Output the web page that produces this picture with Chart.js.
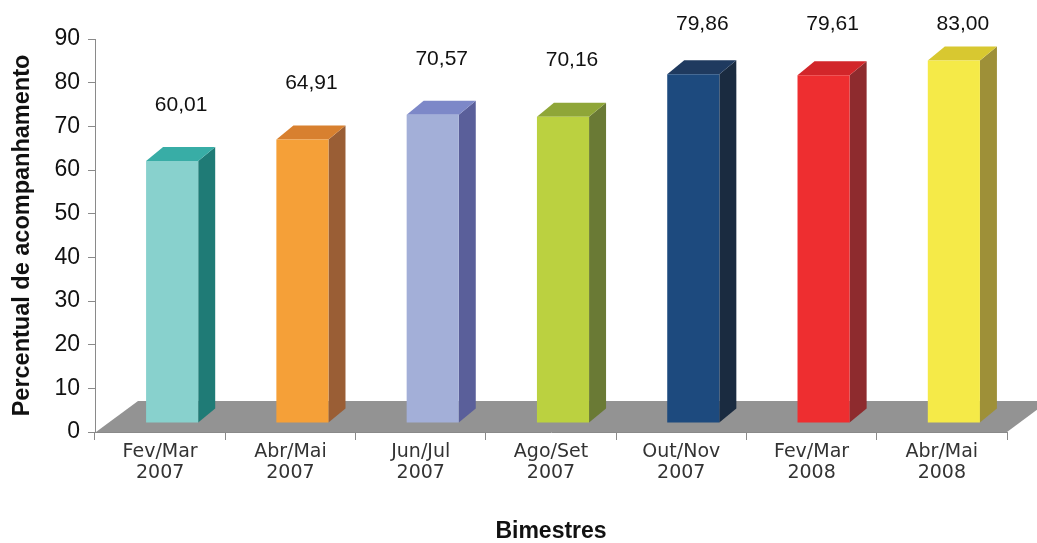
<!DOCTYPE html>
<html>
<head>
<meta charset="utf-8">
<script src="https://cdn.jsdelivr.net/npm/chart.js@4.4.0/dist/chart.umd.min.js"></script>
<style>
    html, body { margin: 0; padding: 0; background: #fff; }
    #chart { display: block; }
</style>
</head>
<body>
<canvas id="chart" width="1037" height="543"></canvas>
<script>
// ---- data ----
const periods = [
    ['Fev/Mar', '2007'],
    ['Abr/Mai', '2007'],
    ['Jun/Jul', '2007'],
    ['Ago/Set', '2007'],
    ['Out/Nov', '2007'],
    ['Fev/Mar', '2008'],
    ['Abr/Mai', '2008']
];
const values = [60.01, 64.91, 70.57, 70.16, 79.86, 79.61, 83.00];
const yTicks = [0, 10, 20, 30, 40, 50, 60, 70, 80, 90];

// ---- colours per bar (front, top, side) ----
const frontColors = ['#88d1cd', '#f5a038', '#a3afd8', '#bbd140', '#1d4a7e', '#ee2e30', '#f5ea48'];
const topColors   = ['#38ada6', '#d8802f', '#7d88c8', '#8fa638', '#1f3a5f', '#d2262a', '#d8c830'];
const sideColors  = ['#1f7b76', '#9a5e35', '#5a5f9a', '#6a7a35', '#1a2b40', '#8e2b2e', '#9e9038'];

// 3D look
const depth = { floorDx: 42, floorDy: -31, barShiftX: 12, barShiftY: -9, barDx: 17, barDy: -14 };

const fmt = v => v.toFixed(2).replace('.', ',');

function poly(ctx, pts, fill) {
    ctx.beginPath();
    ctx.moveTo(pts[0][0], pts[0][1]);
    for (let i = 1; i < pts.length; i++) ctx.lineTo(pts[i][0], pts[i][1]);
    ctx.closePath();
    ctx.fillStyle = fill;
    ctx.fill();
}

const bars3d = {
    id: 'bars3d',
    beforeDatasetsDraw(chart) {
        const { ctx, chartArea: a } = chart;
        const b = a.bottom;
        ctx.save();
        poly(ctx, [
            [a.left + 1, b],
            [a.left + 1 + depth.floorDx, b + depth.floorDy],
            [a.right + depth.floorDx, b + depth.floorDy],
            [a.right, b]
        ], '#939393');
        ctx.restore();
    },
    afterDatasetsDraw(chart) {
        const { ctx } = chart;
        const meta = chart.getDatasetMeta(0);
        ctx.save();
        meta.data.forEach((bar, i) => {
            const p = bar.getProps(['x', 'y', 'base', 'width'], true);
            const l = p.x - p.width / 2 + depth.barShiftX;
            const r = l + p.width;
            const t = p.y + depth.barShiftY;
            const bt = p.base + depth.barShiftY;
            const dx = depth.barDx, dy = depth.barDy;
            poly(ctx, [[r, t], [r + dx, t + dy], [r + dx, bt + dy], [r, bt]], sideColors[i]);
            poly(ctx, [[l, t], [l + dx, t + dy], [r + dx, t + dy], [r, t]], topColors[i]);
            poly(ctx, [[l, t], [r, t], [r, bt], [l, bt]], frontColors[i]);

            // value label
            ctx.fillStyle = '#111';
            ctx.font = '21px "Liberation Sans", Arial, sans-serif';
            ctx.textAlign = 'center';
            ctx.textBaseline = 'middle';
            const ly = Math.max(24, t + dy - 42);
            ctx.fillText(fmt(values[i]), (l + r) / 2 + 9, ly);
        });
        ctx.restore();
    }
};

new Chart(document.getElementById('chart'), {
    type: 'bar',
    data: {
        labels: periods,
        datasets: [{
            data: values,
            backgroundColor: 'rgba(0,0,0,0)',
            barPercentage: 0.4,
            categoryPercentage: 1
        }]
    },
    options: {
        responsive: false,
        animation: false,
        layout: { autoPadding: false, padding: { top: 39, right: 30, left: 0, bottom: 0 } },
        plugins: { legend: { display: false }, tooltip: { enabled: false } },
        scales: {
            x: {
                afterFit: s => { s.height = 111; },
                border: { color: '#8a8a8a', width: 1 },
                grid: { offset: true, drawOnChartArea: false, color: '#8a8a8a', tickLength: 8 },
                ticks: {
                    color: '#333',
                    padding: 2,
                    maxRotation: 0,
                    autoSkip: false,
                    font: { family: '"DejaVu Sans", Verdana, sans-serif', size: 19, lineHeight: 1.1 }
                },
                title: {
                    display: true,
                    text: 'Bimestres',
                    color: '#111',
                    padding: { top: 0, bottom: 0 },
                    font: { family: '"Liberation Sans", Arial, sans-serif', size: 23, weight: 'bold', lineHeight: 1 }
                }
            },
            y: {
                min: 0,
                max: 90,
                afterFit: s => { s.width = 95; },
                afterBuildTicks: s => { s.ticks = yTicks.map(v => ({ value: v })); },
                border: { color: '#8a8a8a', width: 1 },
                grid: { drawOnChartArea: false, color: '#8a8a8a', tickLength: 7 },
                ticks: {
                    color: '#111',
                    padding: 8,
                    font: { family: '"Liberation Sans", Arial, sans-serif', size: 23 }
                },
                title: {
                    display: true,
                    text: 'Percentual de acompanhamento',
                    color: '#111',
                    padding: { top: 8, bottom: 0 },
                    font: { family: '"Liberation Sans", Arial, sans-serif', size: 23.5, weight: 'bold' }
                }
            }
        }
    },
    plugins: [bars3d]
});
</script>
</body>
</html>
